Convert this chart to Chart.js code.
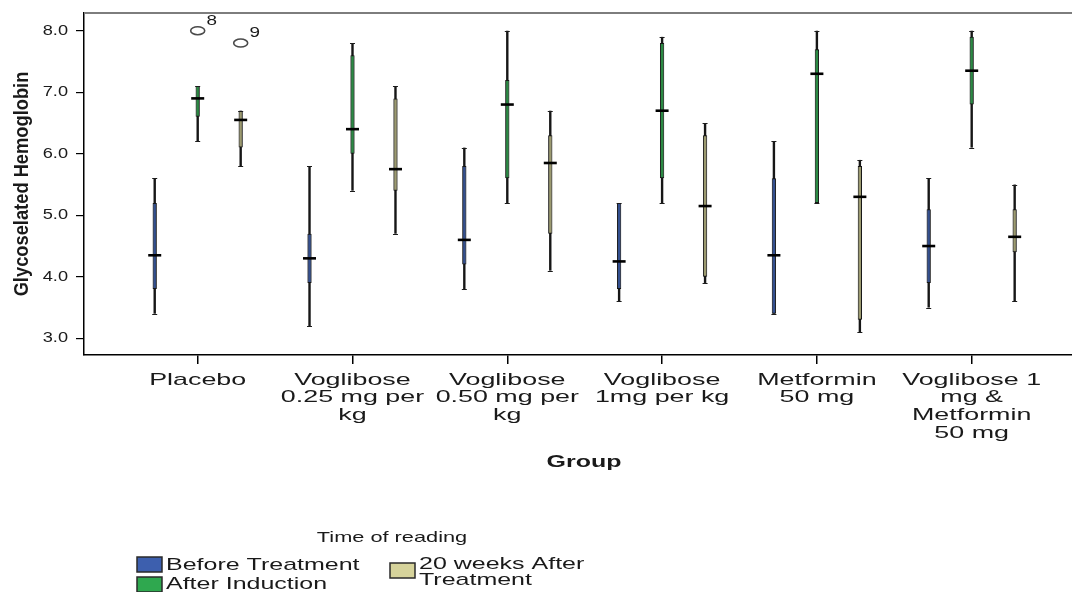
<!DOCTYPE html>
<html>
<head>
<meta charset="utf-8">
<script src="https://cdn.jsdelivr.net/npm/chart.js@4.4.1/dist/chart.umd.min.js"></script>
<style>
  html, body { margin: 0; padding: 0; background: #fff; }
  #wrap { width: 1072px; height: 592px; position: relative; }
</style>
</head>
<body>
<div id="wrap"><canvas id="c"></canvas></div>
<script>
// Groups on the x axis (each entry is the wrapped label, one string per line)
const groupLabels = [
  ['Placebo'],
  ['Voglibose', '0.25 mg per', 'kg'],
  ['Voglibose', '0.50 mg per', 'kg'],
  ['Voglibose', '1mg per kg'],
  ['Metformin', '50 mg'],
  ['Voglibose 1', 'mg &', 'Metformin', '50 mg']
];

const seriesNames = ['Before Treatment', 'After Induction', '20 weeks After Treatment'];
const seriesColors = ['#3d5fae', '#2fa84f', '#d6d39b'];
const boxFillColors = ['#34508f', '#2b8a44', '#9c9a70'];

// Five-number summaries, one value per group
const beforeMin    = [3.4, 3.2, 3.8, 3.6, 3.4, 3.5];
const beforeQ1     = [3.8, 3.9, 4.2, 3.8, 3.4, 3.9];
const beforeMedian = [4.35, 4.3, 4.6, 4.25, 4.35, 4.5];
const beforeQ3     = [5.2, 4.7, 5.8, 5.2, 5.6, 5.1];
const beforeMax    = [5.6, 5.8, 6.1, 5.2, 6.2, 5.6];

const inductionMin    = [6.2, 5.4, 5.2, 5.2, 5.2, 6.1];
const inductionQ1     = [6.6, 6.0, 5.6, 5.6, 5.2, 6.8];
const inductionMedian = [6.9, 6.4, 6.8, 6.7, 7.3, 7.35];
const inductionQ3     = [7.1, 7.6, 7.2, 7.8, 7.7, 7.9];
const inductionMax    = [7.1, 7.8, 8.0, 7.9, 8.0, 8.0];

const week20Min    = [5.8, 4.7, 4.1, 3.9, 3.1, 3.6];
const week20Q1     = [6.1, 5.4, 4.7, 4.0, 3.3, 4.4];
const week20Median = [6.55, 5.75, 5.85, 5.15, 5.3, 4.65];
const week20Q3     = [6.7, 6.9, 6.3, 6.3, 5.8, 5.1];
const week20Max    = [6.7, 7.1, 6.7, 6.5, 5.9, 5.5];

// Outlying cases: group index, series index, value, case number
const outlierGroup  = [0, 0];
const outlierSeries = [1, 2];
const outlierValue  = [8.0, 7.8];
const outlierCase   = ['8', '9'];

const yTickValues = [3, 4, 5, 6, 7, 8];

const summaries = [
  { min: beforeMin, q1: beforeQ1, med: beforeMedian, q3: beforeQ3, max: beforeMax },
  { min: inductionMin, q1: inductionQ1, med: inductionMedian, q3: inductionQ3, max: inductionMax },
  { min: week20Min, q1: week20Q1, med: week20Median, q3: week20Q3, max: week20Max }
];

const FONT = '"Liberation Sans", Arial, sans-serif';
const CAT_PCT = 0.833;

// Text drawn with a stretch factor k along the writing direction
function wideText(ctx, str, x, y, size, k, align, weight) {
  ctx.save();
  ctx.font = (weight || 'normal') + ' ' + size + 'px ' + FONT;
  ctx.fillStyle = '#1a1a1a';
  ctx.textBaseline = 'middle';
  ctx.textAlign = align;
  ctx.translate(x, y);
  ctx.scale(k, 1);
  ctx.fillText(str, 0, 0);
  ctx.restore();
}

// Boxes first (drawn last, on top), whiskers after them
const boxSets = summaries.map((s, si) => ({
  label: seriesNames[si],
  role: 'box',
  series: si,
  stack: 's' + si,
  data: groupLabels.map((g, i) => ({ x: i, y: [s.q1[i], s.q3[i]] })),
  backgroundColor: boxFillColors[si],
  borderColor: '#151515',
  borderWidth: 1,
  borderSkipped: false,
  categoryPercentage: CAT_PCT,
  barPercentage: 0.1
}));
const whiskerSets = summaries.map((s, si) => ({
  label: seriesNames[si] + ' range',
  role: 'whisker',
  series: si,
  stack: 's' + si,
  data: groupLabels.map((g, i) => ({ x: i, y: [s.min[i], s.max[i]] })),
  backgroundColor: '#161616',
  borderWidth: 0,
  categoryPercentage: CAT_PCT,
  barPercentage: 0.056
}));

function boxMeta(chart, si) {
  const idx = chart.data.datasets.findIndex(d => d.role === 'box' && d.series === si);
  return chart.getDatasetMeta(idx);
}

const boxplotExtras = {
  id: 'boxplotExtras',
  beforeDatasetsDraw(chart) {
    const { ctx, chartArea } = chart;
    ctx.save();
    ctx.strokeStyle = '#7d7d7d';
    ctx.lineWidth = 2;
    ctx.beginPath();
    ctx.moveTo(chartArea.left, chartArea.top);
    ctx.lineTo(chartArea.right, chartArea.top);
    ctx.stroke();
    ctx.restore();
  },
  afterDatasetsDraw(chart) {
    const { ctx } = chart;
    const y = chart.scales.y;
    ctx.save();
    // whisker caps
    summaries.forEach((s, si) => {
      const meta = boxMeta(chart, si);
      meta.data.forEach((el, i) => {
        ctx.strokeStyle = '#1c1c1c';
        ctx.lineWidth = 1;
        [s.min[i], s.max[i]].forEach(v => {
          const py = Math.round(y.getPixelForValue(v)) + 0.5;
          ctx.beginPath();
          ctx.moveTo(el.x - 2.5, py);
          ctx.lineTo(el.x + 2.5, py);
          ctx.stroke();
        });
      });
    });
    // medians
    summaries.forEach((s, si) => {
      const meta = boxMeta(chart, si);
      meta.data.forEach((el, i) => {
        const py = y.getPixelForValue(s.med[i]);
        ctx.strokeStyle = '#000';
        ctx.lineWidth = 2.6;
        ctx.beginPath();
        ctx.moveTo(el.x - 6.5, py);
        ctx.lineTo(el.x + 6.5, py);
        ctx.stroke();
      });
    });
    // outliers with case numbers
    outlierValue.forEach((v, k) => {
      const el = boxMeta(chart, outlierSeries[k]).data[outlierGroup[k]];
      const py = y.getPixelForValue(v);
      ctx.strokeStyle = '#4a4a4a';
      ctx.lineWidth = 1.6;
      ctx.beginPath();
      ctx.ellipse(el.x, py, 7, 4, 0, 0, Math.PI * 2);
      ctx.stroke();
      wideText(ctx, outlierCase[k], el.x + 14, py - 10, 14, 1.35, 'center');
    });
    ctx.restore();
  },
  afterDraw(chart) {
    const { ctx, chartArea } = chart;
    const x = chart.scales.x, y = chart.scales.y;
    // y tick labels
    yTickValues.forEach(v => {
      wideText(ctx, v.toFixed(1), chartArea.left - 16, y.getPixelForValue(v), 14, 1.3, 'right');
    });
    // x tick labels
    groupLabels.forEach((lines, i) => {
      const px = x.getPixelForValue(i);
      lines.forEach((ln, j) => {
        wideText(ctx, ln, px, chartArea.bottom + 25 + j * 17.8, 17, 1.58, 'center');
      });
    });
    // axis titles
    wideText(ctx, 'Group', (chartArea.left + chartArea.right) / 2 + 6, 463, 16, 1.56, 'center', 'bold');
    ctx.save();
    ctx.translate(22, (chartArea.top + chartArea.bottom) / 2);
    ctx.rotate(-Math.PI / 2);
    wideText(ctx, 'Glycoselated Hemoglobin', 0, 0, 20, 0.915, 'center', 'bold');
    ctx.restore();
    // legend
    wideText(ctx, 'Time of reading', 392, 538, 15, 1.45, 'center');
    const items = [
      { s: 0, bx: 137, by: 557, lines: ['Before Treatment'], ty: 565 },
      { s: 1, bx: 137, by: 577, lines: ['After Induction'], ty: 584 },
      { s: 2, bx: 390, by: 563, lines: ['20 weeks After', 'Treatment'], ty: 564 }
    ];
    items.forEach(it => {
      ctx.save();
      ctx.fillStyle = seriesColors[it.s];
      ctx.strokeStyle = '#2a2a2a';
      ctx.lineWidth = 1.5;
      ctx.fillRect(it.bx, it.by, 25, 15);
      ctx.strokeRect(it.bx, it.by, 25, 15);
      ctx.restore();
      it.lines.forEach((ln, j) => {
        wideText(ctx, ln, it.bx + 29, it.ty + j * 16, 17, 1.47, 'left');
      });
    });
  }
};

new Chart(document.getElementById('c'), {
  type: 'bar',
  data: { datasets: boxSets.concat(whiskerSets) },
  options: {
    responsive: true,
    maintainAspectRatio: false,
    animation: false,
    devicePixelRatio: 1,
    layout: { padding: { top: 13, left: 0, right: 0, bottom: 0 } },
    plugins: { legend: { display: false }, tooltip: { enabled: false }, title: { display: false } },
    scales: {
      x: {
        type: 'linear',
        min: -0.7345,
        max: 5.648,
        offset: false,
        afterBuildTicks: s => { s.ticks = groupLabels.map((g, i) => ({ value: i })); },
        afterFit: s => { s.height = 237; },
        ticks: { display: false },
        grid: { display: true, offset: false, drawOnChartArea: false, drawTicks: true, tickLength: 9, color: '#000', lineWidth: 1.5 },
        border: { display: true, color: '#000', width: 1.5 }
      },
      y: {
        type: 'linear',
        min: 2.729,
        max: 8.288,
        stacked: false,
        beginAtZero: false,
        afterBuildTicks: s => { s.ticks = yTickValues.map(v => ({ value: v })); },
        afterFit: s => { s.width = 84; },
        ticks: { display: false },
        grid: { display: true, drawOnChartArea: false, drawTicks: true, tickLength: 8, color: '#000', lineWidth: 1.2 },
        border: { display: true, color: '#000', width: 1.5 }
      }
    }
  },
  plugins: [boxplotExtras]
});
</script>
</body>
</html>
